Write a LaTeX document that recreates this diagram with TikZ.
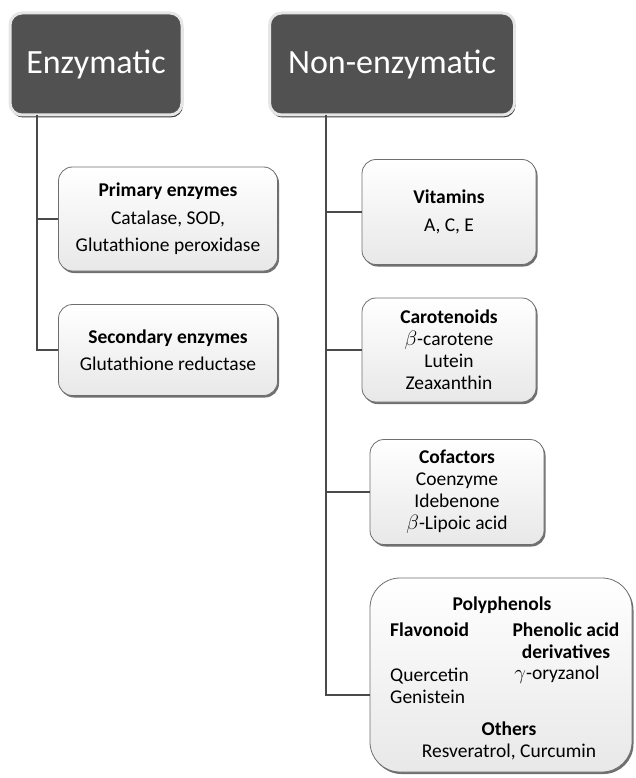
\documentclass[tikz,border=0pt]{standalone}
\usepackage{fontspec}
\setmainfont{Carlito}
\usepackage{tikz}
\usetikzlibrary{shadows}

\definecolor{headfill}{HTML}{515151}
\definecolor{headrim}{HTML}{E6E6E6}
\definecolor{boxrim}{HTML}{6E6E6E}
\definecolor{wire}{HTML}{4A4A4A}

\tikzset{
  head/.style={rectangle, rounded corners=12pt, fill=headfill, draw=headrim,
    line width=3pt, text=white, inner sep=0pt,
    font=\fontsize{34}{40}\selectfont,
    drop shadow={shadow xshift=1pt, shadow yshift=-2.5pt, opacity=0.9, fill=black!85}},
  item/.style={rectangle, rounded corners=14pt, draw=boxrim, line width=0.8pt,
    top color=white, bottom color=black!9, inner sep=0pt, align=center,
    font=\fontsize{19.5}{22}\selectfont,
    drop shadow={shadow xshift=1.5pt, shadow yshift=-2pt, opacity=0.8, fill=black!70}},
  loose/.style={font=\fontsize{19.5}{27.5}\selectfont},
  label/.style={inner sep=0pt, font=\fontsize{19.5}{22}\selectfont},
  wire/.style={draw=wire, line width=1.6pt}
}

\begin{document}
\begin{tikzpicture}[x=1pt, y=-1pt]
\useasboundingbox (0,0) rectangle (636,778);

% headings
\path (96,64) node (enz) [head, minimum width=172pt, minimum height=102pt] {Enzymatic};
\path (392,64) node (nonenz) [head, minimum width=245pt, minimum height=102pt] {Non-enzymatic};

% enzymatic branch
\path (168,219) node (prim) [item, loose, minimum width=219pt, minimum height=104pt]
  {\textbf{Primary enzymes}\\Catalase, SOD,\\Glutathione peroxidase};
\path (168,350) node (sec) [item, loose, minimum width=219pt, minimum height=91pt]
  {\textbf{Secondary enzymes}\\Glutathione reductase};

% non-enzymatic branch
\path (449,212) node (vit) [item, loose, minimum width=174pt, minimum height=105pt]
  {\textbf{Vitamins}\\A, C, E};
\path (449,350) node (carot) [item, minimum width=174pt, minimum height=104pt]
  {\textbf{Carotenoids}\\$\beta$-carotene\\Lutein\\Zeaxanthin};
\path (457,492) node (cofac) [item, minimum width=174pt, minimum height=105pt]
  {\textbf{Cofactors}\\Coenzyme\\Idebenone\\$\beta$-Lipoic acid};
\path (501,675) node (poly) [item, rounded corners=30pt, minimum width=262pt, minimum height=194pt] {};

% polyphenols contents
\path (502,605) node (polyhead) [label] {\textbf{Polyphenols}};
\path (390,630) node (flavo) [label, anchor=west] {\textbf{Flavonoid}};
\path (566,641) node (phenolic) [label, align=center] {\textbf{Phenolic acid}\\\textbf{derivatives}};
\path (390,686) node (flavolist) [label, anchor=west, align=left] {Quercetin\\Genistein};
\path (557,675) node (oryz) [label] {$\gamma$-oryzanol};
\path (509,741) node (others) [label, align=center] {\textbf{Others}\\Resveratrol, Curcumin};

% connectors
\coordinate (etop) at (37,115);
\coordinate (ntop) at (326,115);
\draw[wire] (etop) |- (prim.west);
\draw[wire] (etop) |- (sec.west);
\draw[wire] (ntop) |- (vit.west);
\draw[wire] (ntop) |- (carot.west);
\draw[wire] (ntop) |- (cofac.west);
\draw[wire] (ntop) |- ([yshift=-20pt]poly.west);
\end{tikzpicture}
\end{document}
